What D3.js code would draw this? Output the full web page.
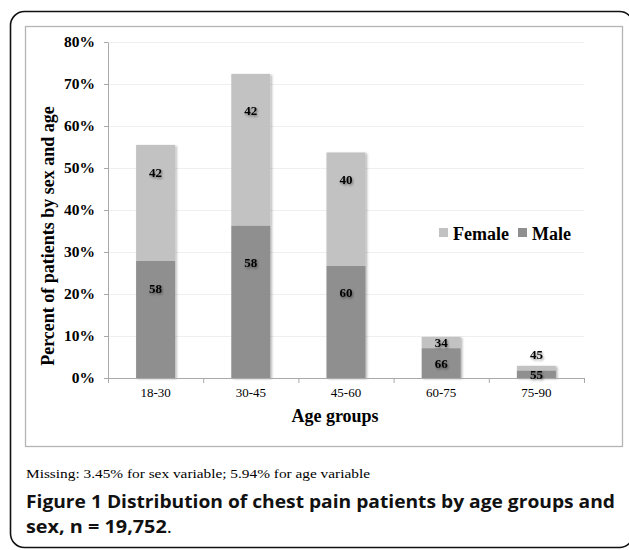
<!DOCTYPE html>
<html>
<head>
<meta charset="utf-8">
<script src="https://cdn.jsdelivr.net/npm/d3@7"></script>
<style>
body { margin: 0; background: #fff; }
svg { display: block; }
</style>
</head>
<body>
<svg width="629" height="550"></svg>
<script>
// values (percent of patients)
var ageGroups = ["18-30", "30-45", "45-60", "60-75", "75-90"];
var malePct = [27.9, 36.3, 26.7, 7.1, 1.8];
var femalePct = [27.6, 36.1, 27.0, 2.7, 1.1];
var maleLabels = [58, 58, 60, 66, 55];
var femaleLabels = [42, 42, 40, 34, 45];
var yTicks = [0, 10, 20, 30, 40, 50, 60, 70, 80];
var seriesNames = ["Female", "Male"];

var serif = "'Liberation Serif', 'Times New Roman', serif";
var colFemale = "#c2c2c2", colMale = "#8f8f8f";

var svg = d3.select("svg");

// outer rounded frame
svg.append("rect")
    .attr("x", 10.5).attr("y", 11.5)
    .attr("width", 623).attr("height", 536)
    .attr("rx", 14)
    .attr("fill", "none").attr("stroke", "#111").attr("stroke-width", 1.6);

// inner chart box
svg.append("rect")
    .attr("x", 25.5).attr("y", 26.5)
    .attr("width", 597).attr("height", 420)
    .attr("fill", "#fff").attr("stroke", "#b4b4b4").attr("stroke-width", 1.3);

var defs = svg.append("defs");
defs.append("filter").attr("id", "barShadow")
    .attr("x", "-20%").attr("y", "-20%").attr("width", "140%").attr("height", "140%")
    .append("feDropShadow")
    .attr("dx", 1.5).attr("dy", 1).attr("stdDeviation", 1)
    .attr("flood-color", "#000").attr("flood-opacity", 0.3);
defs.append("filter").attr("id", "textShadow")
    .attr("x", "-30%").attr("y", "-30%").attr("width", "160%").attr("height", "160%")
    .append("feDropShadow")
    .attr("dx", 1).attr("dy", 1.5).attr("stdDeviation", 1.2)
    .attr("flood-color", "#000").attr("flood-opacity", 0.45);

var plotL = 108, plotR = 584, plotT = 42, plotB = 378;

var x = d3.scaleBand().domain(ageGroups).range([plotL, plotR])
    .paddingInner(0.59).paddingOuter(0.295);
var y = d3.scaleLinear().domain([0, 80]).range([plotB, plotT]);
var step = x.step();

// gridlines
svg.append("g").selectAll("line")
    .data(yTicks.filter(function(d) { return d > 0; }))
    .enter().append("line")
    .attr("x1", plotL).attr("x2", plotR)
    .attr("y1", function(d) { return y(d) + 0.5; })
    .attr("y2", function(d) { return y(d) + 0.5; })
    .attr("stroke", "#efefef").attr("stroke-width", 1);

// stacked bars
var stacked = ageGroups.map(function(g, i) {
    return { group: g, male: malePct[i], female: femalePct[i],
             ml: maleLabels[i], fl: femaleLabels[i] };
});

var bars = svg.append("g").attr("filter", "url(#barShadow)");
bars.selectAll(".male").data(stacked).enter().append("rect")
    .attr("x", function(d) { return x(d.group); })
    .attr("width", x.bandwidth())
    .attr("y", function(d) { return y(d.male); })
    .attr("height", function(d) { return y(0) - y(d.male); })
    .attr("fill", colMale);
bars.selectAll(".female").data(stacked).enter().append("rect")
    .attr("x", function(d) { return x(d.group); })
    .attr("width", x.bandwidth())
    .attr("y", function(d) { return y(d.male + d.female); })
    .attr("height", function(d) { return y(d.male) - y(d.male + d.female); })
    .attr("fill", colFemale);

// axes
var yAxis = svg.append("g")
    .attr("transform", "translate(" + plotL + ",0)")
    .call(d3.axisLeft(y).tickValues(yTicks).tickSize(4).tickSizeOuter(0).tickPadding(9)
        .tickFormat(function(d) { return d + "%"; }));
yAxis.selectAll("line, path").attr("stroke", "#a9a9a9");
yAxis.selectAll("text")
    .attr("font-family", serif).attr("font-weight", "bold")
    .attr("font-size", "15.5px").attr("fill", "#000");

svg.append("line")
    .attr("x1", plotL).attr("x2", plotR)
    .attr("y1", plotB + 0.5).attr("y2", plotB + 0.5)
    .attr("stroke", "#a9a9a9");
svg.append("g").selectAll("line")
    .data(d3.range(ageGroups.length + 1))
    .enter().append("line")
    .attr("x1", function(i) { return plotL + i * step + 0.5; })
    .attr("x2", function(i) { return plotL + i * step + 0.5; })
    .attr("y1", plotB).attr("y2", plotB + 5)
    .attr("stroke", "#a9a9a9");
svg.append("g").selectAll("text")
    .data(ageGroups).enter().append("text")
    .attr("x", function(d) { return x(d) + x.bandwidth() / 2; })
    .attr("y", 397)
    .attr("text-anchor", "middle")
    .attr("font-family", serif).attr("font-size", "13px")
    .text(function(d) { return d; });

// bar value labels
function labelY(lo, hi, isFemale) {
    var h = y(lo) - y(hi);
    if (h > 50) return y(lo + 0.76 * (hi - lo));
    if (h < 10 && isFemale) return y(hi) - 11;
    return (y(lo) + y(hi)) / 2;
}
var labels = svg.append("g").attr("filter", "url(#textShadow)")
    .attr("font-family", serif).attr("font-weight", "bold")
    .attr("font-size", "13px").attr("text-anchor", "middle");
labels.selectAll(".ml").data(stacked).enter().append("text")
    .attr("x", function(d) { return x(d.group) + x.bandwidth() / 2; })
    .attr("y", function(d) { return labelY(0, d.male, false); })
    .attr("dy", "0.35em")
    .text(function(d) { return d.ml; });
labels.selectAll(".fl").data(stacked).enter().append("text")
    .attr("x", function(d) { return x(d.group) + x.bandwidth() / 2; })
    .attr("y", function(d) { return labelY(d.male, d.male + d.female, true); })
    .attr("dy", "0.35em")
    .text(function(d) { return d.fl; });

// axis titles
svg.append("text")
    .attr("transform", "translate(54,236) rotate(-90)")
    .attr("text-anchor", "middle")
    .attr("font-family", serif).attr("font-weight", "bold").attr("font-size", "18px")
    .text("Percent of patients by sex and age");
svg.append("text")
    .attr("x", 335).attr("y", 422)
    .attr("text-anchor", "middle")
    .attr("font-family", serif).attr("font-weight", "bold").attr("font-size", "18px")
    .text("Age groups");

// legend
var legendX = [439, 518];
var legend = svg.append("g").selectAll("g")
    .data(seriesNames).enter().append("g")
    .attr("transform", function(d, i) { return "translate(" + legendX[i] + ",228)"; });
legend.append("rect")
    .attr("width", 9).attr("height", 9)
    .attr("fill", function(d) { return d === "Female" ? colFemale : colMale; });
legend.append("text")
    .attr("x", 14).attr("y", 12)
    .attr("font-family", serif).attr("font-weight", "bold").attr("font-size", "18px")
    .text(function(d) { return d; });

// notes and caption
svg.append("text")
    .attr("x", 26).attr("y", 478)
    .attr("font-family", serif).attr("font-size", "13.5px")
    .attr("textLength", 344).attr("lengthAdjust", "spacingAndGlyphs")
    .text("Missing: 3.45% for sex variable; 5.94% for age variable");

var capFont = "'Open Sans', 'Noto Sans', sans-serif";
var cap = svg.append("text")
    .attr("x", 26).attr("y", 508)
    .attr("font-family", capFont).attr("font-size", "18px").attr("font-weight", 700)
    .attr("fill", "#111")
    .attr("textLength", 589).attr("lengthAdjust", "spacingAndGlyphs");
cap.append("tspan").text("Figure 1 ");
cap.append("tspan").text("Distribution of chest pain patients by age groups and");
var cap2 = svg.append("text")
    .attr("x", 26).attr("y", 533)
    .attr("font-family", capFont).attr("font-size", "18px")
    .attr("fill", "#111")
    .attr("textLength", 146).attr("lengthAdjust", "spacingAndGlyphs");
cap2.append("tspan").attr("font-weight", 700).text("sex, n = 19,752");
cap2.append("tspan").attr("font-weight", 400).text(".");
</script>
</body>
</html>
